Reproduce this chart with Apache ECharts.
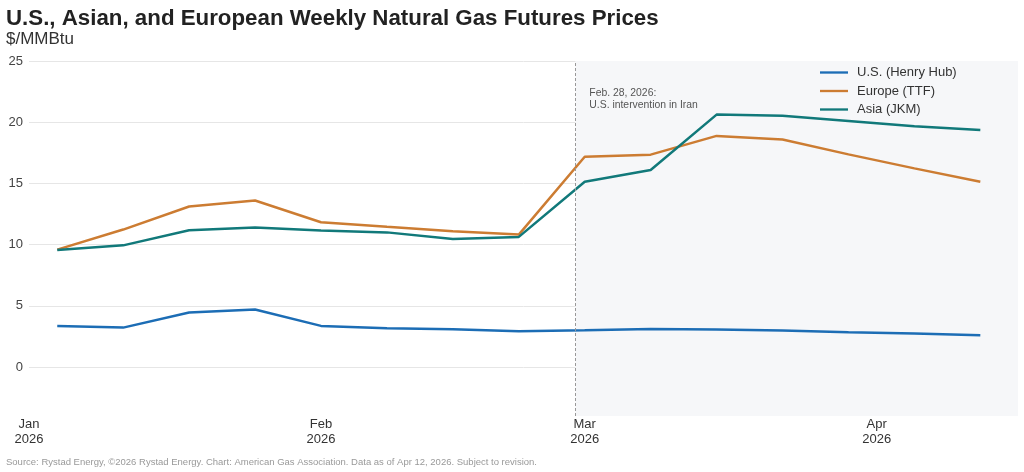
<!DOCTYPE html>
<html>
<head>
<meta charset="utf-8">
<script src="https://cdn.jsdelivr.net/npm/echarts@6/dist/echarts.min.js"></script>
<style>
html,body{margin:0;padding:0;background:#fff;}
#chart{width:1024px;height:472px;}
</style>
</head>
<body>
<div id="chart"></div>
<script>
// Weekly observation dates (YYYY-MM-DD)
const dates = ["2026-01-04","2026-01-11","2026-01-18","2026-01-25","2026-02-01","2026-02-08","2026-02-15","2026-02-22","2026-03-01","2026-03-08","2026-03-15","2026-03-22","2026-03-29","2026-04-05","2026-04-12"];
const usHenryHub = [3.36,3.22,4.45,4.70,3.36,3.17,3.08,2.92,3.00,3.11,3.06,2.98,2.84,2.73,2.59];
const europeTTF  = [9.59,11.23,13.11,13.60,11.83,11.45,11.10,10.82,17.18,17.35,18.88,18.58,17.37,16.23,15.13];
const asiaJKM    = [9.57,9.94,11.17,11.39,11.15,11.00,10.46,10.63,15.13,16.09,20.62,20.52,20.10,19.67,19.37];
const seriesNames = ["U.S. (Henry Hub)","Europe (TTF)","Asia (JKM)"];
const monthTicks = ["2026-01-01","2026-02-01","2026-03-01","2026-04-01"];
const monthNames = ["Jan","Feb","Mar","Apr","May","Jun","Jul","Aug","Sep","Oct","Nov","Dec"];
const eventDate = "2026-02-28";
const eventText = "Feb. 28, 2026:\nU.S. intervention in Iran";
const xMinDate = "2026-01-01";
const xMaxDate = "2026-04-16";

function ts(s){const p=s.split("-").map(Number);return new Date(p[0],p[1]-1,p[2]).getTime();}
function pairs(vals){return dates.map((d,i)=>[ts(d),vals[i]]);}

const colors = ["#1c6db5","#cc7c32","#11797a"];
const chart = echarts.init(document.getElementById('chart'), null, {renderer:'canvas'});
const font = "Liberation Sans, Arial, sans-serif";

const option = {
  animation:false,
  backgroundColor:'#ffffff',
  textStyle:{fontFamily:font},
  title:[
    {text:"U.S., Asian, and European Weekly Natural Gas Futures Prices",left:1,top:3,
     textStyle:{fontFamily:font,fontSize:22.3,fontWeight:'bold',color:'#222'}},
    {text:"$/MMBtu",left:1,top:26,textStyle:{fontFamily:font,fontSize:17,fontWeight:'normal',color:'#333'}},
    {text:"Source: Rystad Energy, ©2026 Rystad Energy. Chart: American Gas Association. Data as of Apr 12, 2026. Subject to revision.",
     left:1,top:452,textStyle:{fontFamily:font,fontSize:9.5,fontWeight:'normal',color:'#999'}}
  ],
  legend:{
    orient:'vertical',left:815,top:61,itemWidth:28,itemHeight:13,itemGap:5.5,
    icon:'path://M0,0 L30,0 L30,2.5 L0,2.5 Z',
    textStyle:{fontFamily:font,fontSize:13,color:'#333',padding:[0,0,0,4]},
    data:seriesNames
  },
  grid:{left:29,right:6,top:61,bottom:56,containLabel:false},
  xAxis:{
    type:'value',min:ts(xMinDate),max:ts(xMaxDate),
    axisLine:{show:false},axisTick:{show:false},splitLine:{show:false},
    axisLabel:{
      customValues:monthTicks.map(ts),
      formatter:function(v){const d=new Date(v);return monthNames[d.getMonth()]+"\n"+d.getFullYear();},
      color:'#333',fontSize:13,lineHeight:15,margin:1,fontFamily:font
    }
  },
  yAxis:{
    type:'value',min:-4,max:25,
    axisLine:{show:false},axisTick:{show:false},
    axisLabel:{color:'#444',fontSize:13,margin:6,showMinLabel:false,fontFamily:font},
    splitLine:{lineStyle:{color:'#e6e6e6',width:1},showMinLine:false}
  },
  series:[
    {name:seriesNames[0],type:'line',data:pairs(usHenryHub),symbol:'none',
     lineStyle:{width:2.5,color:colors[0]},itemStyle:{color:colors[0]},z:3,
     markArea:{silent:true,itemStyle:{color:'#f6f7f9'},data:[[{xAxis:ts(eventDate)},{xAxis:ts(xMaxDate)}]]},
     markLine:{silent:true,symbol:'none',lineStyle:{type:[3,2],color:'#999',width:1},label:{show:false},
       data:[{xAxis:ts(eventDate)}]}
    },
    {name:seriesNames[1],type:'line',data:pairs(europeTTF),symbol:'none',
     lineStyle:{width:2.5,color:colors[1]},itemStyle:{color:colors[1]},z:3},
    {name:seriesNames[2],type:'line',data:pairs(asiaJKM),symbol:'none',
     lineStyle:{width:2.5,color:colors[2]},itemStyle:{color:colors[2]},z:3,
     markPoint:{silent:true,symbol:'circle',symbolSize:0,
       label:{show:true,formatter:eventText,position:'right',distance:14,color:'#555',fontSize:10.4,lineHeight:12,fontFamily:font,align:'left'},
       data:[{coord:[ts(eventDate),21.92]}]}
    }
  ]
};
chart.setOption(option);
</script>
</body>
</html>
